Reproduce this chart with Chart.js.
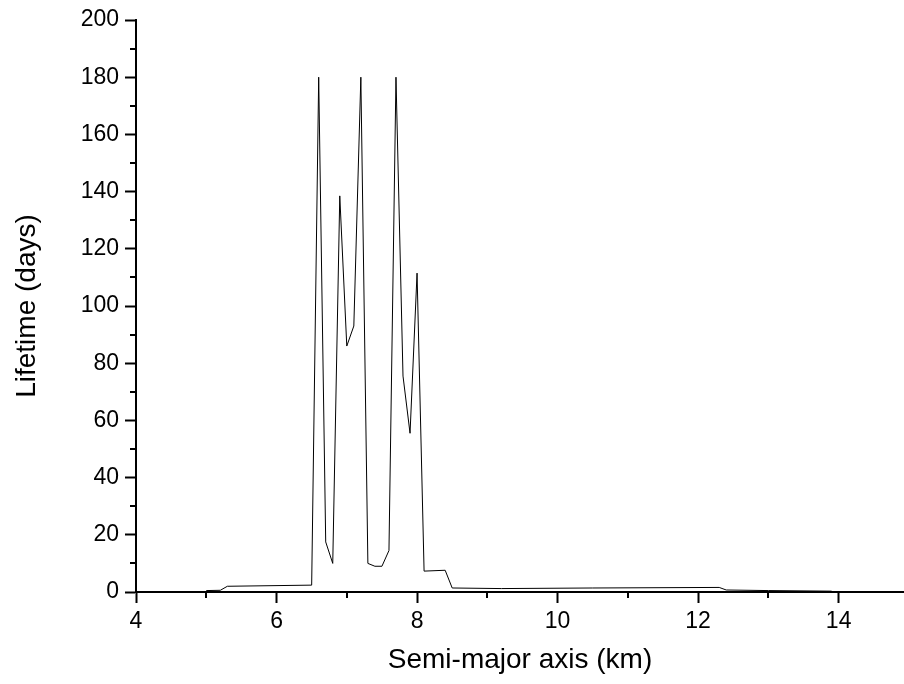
<!DOCTYPE html>
<html>
<head>
<meta charset="utf-8">
<script src="https://cdn.jsdelivr.net/npm/chart.js@4/dist/chart.umd.min.js"></script>
<style>
  html, body { margin: 0; padding: 0; background: #fff; }
  #wrap { width: 904px; height: 684px; }
</style>
</head>
<body>
<div id="wrap"><canvas id="chart" width="904" height="684"></canvas></div>
<script>
// semi-major axis (km) and lifetime (days)
const semiMajorAxis = [5.0, 5.2, 5.3, 6.5, 6.6, 6.7, 6.8, 6.9, 7.0, 7.1, 7.2, 7.3, 7.4, 7.5, 7.6, 7.7, 7.8, 7.9, 8.0, 8.1, 8.4, 8.5, 9.2, 10.5, 12.3, 12.4, 13.0, 13.9];
const lifetimeDays  = [0.5, 0.6, 2.0, 2.4, 180, 17.5, 10, 138.5, 86, 93, 180, 10, 9, 9, 14.5, 180, 75.5, 55.5, 111.5, 7.3, 7.6, 1.4, 1.2, 1.4, 1.6, 0.7, 0.5, 0.3];

// axis ticks
const xMajorTicks = [4, 6, 8, 10, 12, 14];
const xMinorTicks = [5, 7, 9, 11, 13];
const yMajorTicks = [0, 20, 40, 60, 80, 100, 120, 140, 160, 180, 200];
const yMinorTicks = [10, 30, 50, 70, 90, 110, 130, 150, 170, 190];

const FONT = "'Liberation Sans', Arial, sans-serif";

// short minor tick marks, drawn outside the axes
const minorTicks = {
  id: 'minorTicks',
  afterDraw(chart) {
    const { ctx, chartArea, scales } = chart;
    ctx.save();
    ctx.strokeStyle = '#000';
    ctx.lineWidth = 2;
    ctx.beginPath();
    xMinorTicks.forEach(v => {
      const px = Math.round(scales.x.getPixelForValue(v));
      ctx.moveTo(px, chartArea.bottom);
      ctx.lineTo(px, chartArea.bottom + 6);
    });
    yMinorTicks.forEach(v => {
      const py = Math.round(scales.y.getPixelForValue(v));
      ctx.moveTo(chartArea.left, py);
      ctx.lineTo(chartArea.left - 6, py);
    });
    ctx.stroke();
    ctx.restore();
  }
};

new Chart(document.getElementById('chart'), {
  type: 'line',
  data: {
    datasets: [{
      data: semiMajorAxis.map((x, i) => ({ x: x, y: lifetimeDays[i] })),
      borderColor: '#000',
      borderWidth: 1,
      pointRadius: 0,
      tension: 0,
      fill: false
    }]
  },
  options: {
    responsive: false,
    devicePixelRatio: 1,
    animation: false,
    layout: { padding: { top: 20, right: 0, left: 0, bottom: 0 } },
    plugins: { legend: { display: false }, tooltip: { enabled: false } },
    scales: {
      x: {
        type: 'linear',
        min: 4,
        max: 14.93,
        afterBuildTicks: s => { s.ticks = xMajorTicks.map(v => ({ value: v })); },
        afterFit: s => { s.height = 92; },
        ticks: { font: { family: FONT, size: 23 }, color: '#000', padding: 5, maxRotation: 0 },
        grid: { drawOnChartArea: false, tickLength: 11, tickWidth: 2, tickColor: '#000' },
        border: { color: '#000', width: 2 },
        title: { display: true, text: 'Semi-major axis (km)', color: '#000',
                 font: { family: FONT, size: 28 }, padding: { top: 0, bottom: 7 } }
      },
      y: {
        min: 0,
        max: 200,
        afterBuildTicks: s => { s.ticks = yMajorTicks.map(v => ({ value: v })); },
        afterFit: s => { s.width = 136; },
        ticks: { font: { family: FONT, size: 23 }, color: '#000', padding: 6 },
        grid: { drawOnChartArea: false, tickLength: 11, tickWidth: 2, tickColor: '#000' },
        border: { color: '#000', width: 2 },
        title: { display: true, text: 'Lifetime (days)', color: '#000',
                 font: { family: FONT, size: 28 }, padding: { top: 10, bottom: 0 } }
      }
    }
  },
  plugins: [minorTicks]
});
</script>
</body>
</html>
